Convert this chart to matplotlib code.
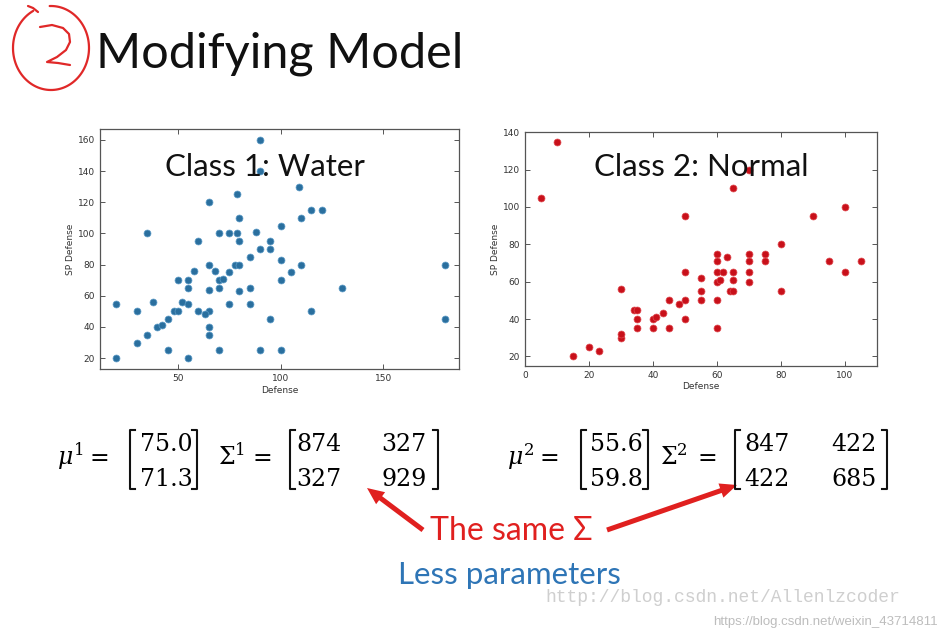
import matplotlib
matplotlib.use("Agg")
import matplotlib.pyplot as plt
import numpy as np

# ---- data ----
water_defense = [20, 20, 30, 30, 35, 35, 38, 40, 42, 45, 45, 50, 48, 50, 52, 55, 55, 55, 55,
                 58, 60, 60, 65, 65, 65, 65, 63, 65, 65, 68, 70, 70, 70, 70, 72, 75, 75, 75,
                 79, 78, 79, 80, 80, 80, 80, 85, 85, 85, 88, 90, 90, 90, 90, 95, 95, 95,
                 100, 100, 100, 100, 105, 109, 110, 110, 115, 115, 120, 130, 180, 180]
water_spdef = [55, 20, 50, 30, 100, 35, 56, 40, 41, 45, 25, 70, 50, 50, 56, 70, 65, 55, 20,
               76, 95, 50, 120, 80, 64, 50, 48, 40, 35, 76, 100, 70, 65, 25, 71, 100, 75, 55,
               125, 80, 100, 110, 95, 80, 63, 85, 65, 55, 101, 160, 140, 90, 25, 95, 90, 45,
               105, 83, 70, 25, 75, 130, 110, 80, 115, 50, 115, 65, 80, 45]

normal_defense = [5, 10, 15, 20, 23, 30, 30, 30, 34, 35, 35, 35, 40, 40, 41, 43, 45, 45, 48,
                  50, 50, 50, 50, 55, 55, 55, 60, 60, 60, 60, 61, 60, 60, 63, 62, 64, 65, 65,
                  65, 65, 70, 70, 70, 70, 70, 75, 75, 80, 80, 90, 95, 100, 100, 105]
normal_spdef = [105, 135, 20, 25, 23, 56, 30, 32, 45, 45, 40, 35, 40, 35, 41, 43, 50, 35, 48,
                95, 65, 50, 40, 62, 55, 50, 75, 71, 65, 60, 61, 50, 35, 73, 65, 55, 65, 61,
                55, 110, 120, 75, 71, 65, 60, 75, 71, 80, 55, 95, 71, 100, 65, 71]

mu1 = ["75.0", "71.3"]
sigma1 = [["874", "327"], ["327", "929"]]
mu2 = ["55.6", "59.8"]
sigma2 = [["847", "422"], ["422", "685"]]

W, H = 943, 638
plt.rcParams['mathtext.fontset'] = 'dejavuserif'
fig = plt.figure(figsize=(W / 100, H / 100), dpi=100)
fig.patch.set_facecolor('white')


def style_axes(ax):
    for s in ax.spines.values():
        s.set_color('#555555')
        s.set_linewidth(0.9)
    ax.tick_params(direction='in', length=3.5, width=0.7, colors='#555555',
                   labelsize=6.5, labelcolor='#333333', top=True, right=True)
    ax.set_xlabel('Defense', fontsize=6.5, color='#333333', labelpad=2)
    ax.set_ylabel('SP Defense', fontsize=6.5, color='#333333', labelpad=2)


# left scatter: water
ax1 = fig.add_axes([100 / W, 1 - 369 / H, 359 / W, 240 / H])
ax1.scatter(water_defense, water_spdef, s=25, color='#2a6f9e', edgecolors='#5d9cc8', linewidths=0.5, zorder=3)
ax1.set_xlim(12, 187)
ax1.set_ylim(13, 167)
ax1.set_xticks([50, 100, 150])
ax1.set_yticks(np.arange(20, 161, 20))
style_axes(ax1)
ax1.text(0.46, 0.84, 'Class 1: Water', transform=ax1.transAxes, ha='center', va='center',
         fontsize=22.5, family='Lato', color='#111111', zorder=4)

# right scatter: normal
ax2 = fig.add_axes([525 / W, 1 - 365.7 / H, 352 / W, 233.4 / H])
ax2.scatter(normal_defense, normal_spdef, s=25, color='#c8101a', edgecolors='#e04a50', linewidths=0.5, zorder=3)
ax2.set_xlim(0, 110)
ax2.set_ylim(15, 140)
ax2.set_xticks(np.arange(0, 101, 20))
ax2.set_yticks(np.arange(20, 141, 20))
style_axes(ax2)
ax2.text(0.5, 0.851, 'Class 2: Normal', transform=ax2.transAxes, ha='center', va='center',
         fontsize=22.5, family='Lato', color='#111111', zorder=4)

# overlay in pixel units for slide text
ov = fig.add_axes([0, 0, 1, 1])
ov.set_xlim(0, W)
ov.set_ylim(H, 0)
ov.axis('off')
ov.patch.set_alpha(0)

ov.text(96, 68, 'Modifying Model', fontsize=35, family='Lato',
        color='#111111', ha='left', va='baseline')

# hand drawn circled 2
t = np.radians(np.linspace(118, 452, 120))
ov.plot(51 + 38 * np.cos(t), 48 - 42 * np.sin(t), color='#e02828', lw=1.6, solid_capstyle='round')
ov.plot([28, 33, 38], [6, 8, 12], color='#e02828', lw=1.6, solid_capstyle='round')
two_x = [40, 52, 63, 69, 70, 66, 57, 47, 58, 70]
two_y = [27, 25, 28, 34, 42, 50, 57, 62, 63, 65]
ov.plot(two_x, two_y, color='#e02828', lw=1.6, solid_capstyle='round', solid_joinstyle='round')

EQ_FS = 17
BASE = 465


def bracket(x, side):
    d = 5 if side == 'L' else -5
    ov.plot([x + d, x, x, x + d], [430, 430, 489, 489], color='#111111', lw=1.5)


def vector(vals, xl, xc, xr):
    bracket(xl, 'L')
    bracket(xr, 'R')
    for v, yb in zip(vals, [451, 486]):
        ov.text(xc, yb, v, fontsize=EQ_FS, family='DejaVu Serif', ha='center', va='baseline')


def matrix(vals, xl, xcs, xr):
    bracket(xl, 'L')
    bracket(xr, 'R')
    for row, yb in zip(vals, [451, 486]):
        for v, xc in zip(row, xcs):
            ov.text(xc, yb, v, fontsize=EQ_FS, family='DejaVu Serif', ha='center', va='baseline')


for sym, x in [(r'$\mu^1$', 57), (r'$\Sigma^1$', 218), (r'$\mu^2$', 507), (r'$\Sigma^2$', 660)]:
    ov.text(x, BASE, sym, fontsize=EQ_FS, ha='left', va='baseline')
for x in [99, 262, 549, 707]:
    ov.text(x, BASE, '=', fontsize=EQ_FS, family='DejaVu Serif', ha='center', va='baseline')

vector(mu1, 130, 166, 197)
matrix(sigma1, 290, [319, 404], 438)
vector(mu2, 581, 616, 648)
matrix(sigma2, 735, [767, 854], 887)

# arrows and notes
red = '#e0201f'
for (tx, ty), (hx, hy) in [((423, 530), (367, 488)), ((607, 530), (737, 485))]:
    ov.arrow(tx, ty, hx - tx, hy - ty, width=5, head_width=15, head_length=17,
             length_includes_head=True, color=red, lw=0)
ov.text(511, 531, 'The same Σ', fontsize=23, family='Lato', color=red, ha='center', va='center')
ov.text(509, 575, 'Less parameters', fontsize=22.5, family='Lato', color='#2e75b6', ha='center', va='center')

# watermarks
ov.text(900, 597, 'http://blog.csdn.net/Allenlzcoder', fontsize=13, family='Liberation Mono',
        color='#cfcfcf', ha='right', va='center')
ov.text(938, 622, 'https://blog.csdn.net/weixin_43714811', fontsize=9.5, family='Liberation Sans',
        color='#bdbdbd', ha='right', va='center')

fig.savefig('out.png', dpi=100, facecolor='white')
